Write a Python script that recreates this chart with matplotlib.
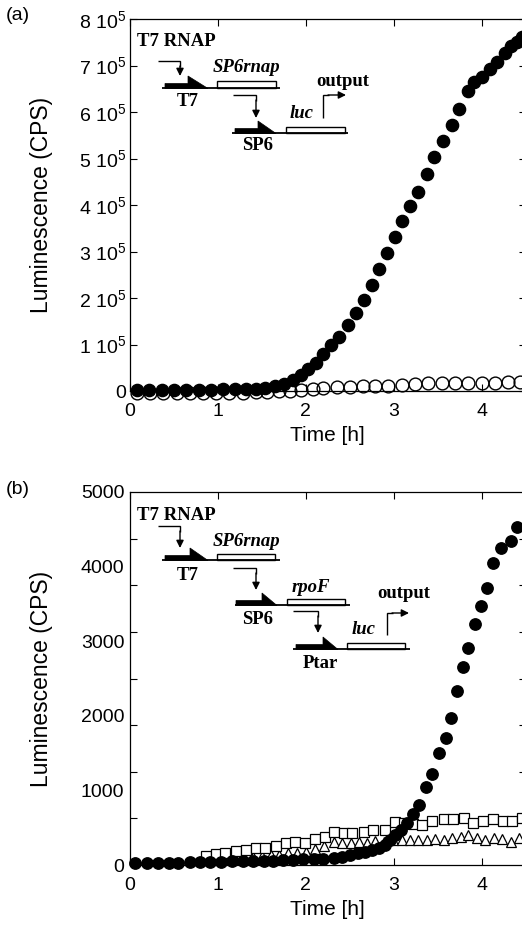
import numpy as np
import matplotlib
matplotlib.use("Agg")
import matplotlib.pyplot as plt
from matplotlib.ticker import FuncFormatter, MultipleLocator, FixedLocator
from matplotlib.lines import Line2D
from matplotlib.patches import Polygon, Rectangle, FancyArrowPatch

plt.rcParams['font.family'] = ['Liberation Sans', 'DejaVu Sans']
plt.rcParams['mathtext.fontset'] = 'custom'
plt.rcParams['mathtext.rm'] = 'Liberation Sans'
plt.rcParams['mathtext.it'] = 'Liberation Sans:italic'

# ---------------- data: panel (a) ----------------
a_on_t = [0.08, 0.22, 0.36, 0.50, 0.64, 0.78, 0.92, 1.06, 1.19, 1.32,
          1.43, 1.54, 1.65, 1.75, 1.85, 1.94, 2.03, 2.12, 2.20, 2.29,
          2.38, 2.48, 2.57, 2.66, 2.75, 2.83, 2.92, 3.01, 3.10, 3.18,
          3.28, 3.38, 3.46, 3.56, 3.66, 3.74, 3.84, 3.91, 4.01, 4.10,
          4.17, 4.27, 4.34, 4.40, 4.46]
a_on_y = [3000, 3000, 3000, 3000, 3000, 3000, 3000, 3500, 4000, 4000,
          5000, 7000, 10000, 16000, 24000, 34000, 47000, 61000, 80000, 99000,
          117000, 142000, 168000, 196000, 228000, 262000, 297000, 332000, 366000, 398000,
          429000, 467000, 503000, 538000, 572000, 606000, 646000, 665000, 676000, 692000,
          708000, 726000, 742000, 751000, 762000]

a_off_t = [0.08, 0.23, 0.38, 0.53, 0.68, 0.83, 0.98, 1.13, 1.28, 1.43,
           1.56, 1.69, 1.82, 1.95, 2.08, 2.20, 2.35, 2.50, 2.65, 2.79,
           2.94, 3.09, 3.24, 3.39, 3.55, 3.70, 3.85, 4.00, 4.15, 4.30, 4.44]
a_off_y = [-4000, -4000, -4000, -4000, -4000, -4000, -4000, -4000, -3500, -3000,
           -2000, -1000, 1000, 3000, 4000, 7000, 8000, 9000, 10000, 11000,
           11000, 13000, 15000, 17000, 18000, 18000, 18000, 17000, 18000, 19000, 19000]

a_yticks = [0, 100000, 200000, 300000, 400000, 500000, 600000, 700000, 800000]

# ---------------- data: panel (b) ----------------
b_on_t = [0.06, 0.19, 0.32, 0.44, 0.55, 0.68, 0.80, 0.91, 1.04, 1.16,
          1.29, 1.40, 1.52, 1.63, 1.74, 1.86, 1.97, 2.09, 2.20, 2.32,
          2.41, 2.50, 2.59, 2.67, 2.75, 2.83, 2.90, 2.96, 3.02, 3.08,
          3.15, 3.22, 3.29, 3.37, 3.44, 3.52, 3.59, 3.65, 3.72, 3.79,
          3.85, 3.92, 3.99, 4.06, 4.13, 4.22, 4.33, 4.40]
b_on_y = [30, 30, 30, 30, 30, 35, 35, 40, 45, 50,
          50, 55, 60, 60, 65, 70, 75, 80, 85, 90,
          110, 130, 155, 175, 200, 225, 270, 330, 400, 470,
          560, 690, 810, 1050, 1220, 1497, 1698, 1966, 2336, 2658,
          2905, 3226, 3472, 3717, 4044, 4245, 4347, 4535]

b_sq_t = [0.86, 0.98, 1.08, 1.21, 1.32, 1.43, 1.54, 1.66, 1.77, 1.88,
          1.99, 2.10, 2.22, 2.32, 2.43, 2.53, 2.66, 2.77, 2.90, 3.01,
          3.12, 3.22, 3.32, 3.44, 3.57, 3.68, 3.80, 3.90, 4.02, 4.13,
          4.24, 4.35, 4.46]
b_sq_y = [125, 147, 165, 188, 201, 232, 224, 255, 291, 312,
          291, 344, 380, 447, 425, 425, 447, 469, 469, 580,
          559, 550, 536, 594, 612, 612, 626, 567, 594, 612,
          594, 594, 626]

b_tri_t = [0.90, 1.00, 1.10, 1.20, 1.30, 1.40, 1.50, 1.60, 1.70, 1.80,
           1.90, 2.00, 2.10, 2.21, 2.32, 2.41, 2.51, 2.60, 2.70, 2.79,
           2.89, 2.99, 3.09, 3.19, 3.28, 3.38, 3.47, 3.57, 3.66, 3.76,
           3.85, 3.95, 4.04, 4.14, 4.23, 4.33, 4.42]
b_tri_y = [70, 80, 85, 95, 100, 110, 120, 130, 140, 155,
           165, 180, 220, 260, 312, 299, 299, 312, 299, 326,
           312, 330, 335, 335, 335, 335, 344, 335, 358, 380,
           402, 358, 335, 358, 344, 312, 358]

b_ylabels = [0, 1000, 2000, 3000, 4000, 5000]
x_ticks = [0, 1, 2, 3, 4]

# ---------------- figure ----------------
W, H = 522, 926
fig = plt.figure(figsize=(W / 100, H / 100), dpi=100)

x0_px, px_per_h = 130, 87.9
xmax = 4.5
axw = xmax * px_per_h / W

ax1 = fig.add_axes([x0_px / W, (H - 391) / H, axw, 372 / H])
ax2 = fig.add_axes([x0_px / W, (H - 865) / H, axw, 373 / H])

for ax in (ax1, ax2):
    ax.set_xlim(0, xmax)
    ax.set_xticks(x_ticks)
    ax.tick_params(axis='both', which='both', direction='in', top=True, right=True,
                   labelsize=14, width=0.8)
    ax.tick_params(axis='both', which='major', length=5)
    ax.tick_params(axis='x', pad=9)
    ax.tick_params(axis='y', pad=3)
    for s in ax.spines.values():
        s.set_linewidth(0.9)
    ax.set_xlabel('Time [h]', fontsize=15, labelpad=4)
    ax.set_ylabel('Luminescence (CPS)', fontsize=16.5)

# panel (a)
ax1.set_ylim(0, 800000)
ax1.yaxis.set_major_locator(FixedLocator(a_yticks))


def afmt(v, pos):
    k = int(round(v / 1e5))
    return '0' if k == 0 else rf'{k} 10$^{{5}}$'


ax1.yaxis.set_major_formatter(FuncFormatter(afmt))
ax1.plot(a_off_t, a_off_y, 'o', ms=9.2, mfc='none', mec='k', mew=1.0, clip_on=False, zorder=3)
ax1.plot(a_on_t, a_on_y, 'o', ms=8.8, mfc='k', mec='k', clip_on=False, zorder=4)

# panel (b)
ax2.set_ylim(0, 5000)
ax2.yaxis.set_major_locator(FixedLocator(b_ylabels))
ax2.yaxis.set_minor_locator(MultipleLocator(625))
ax2.tick_params(axis='y', which='major', length=0, pad=4)
ax2.tick_params(axis='y', which='minor', length=5)
ax2.plot(b_tri_t, b_tri_y, '^', ms=7.5, mfc='white', mec='k', mew=0.9, clip_on=False, zorder=3)
ax2.plot(b_sq_t, b_sq_y, 's', ms=7.8, mfc='white', mec='k', mew=0.9, clip_on=False, zorder=4)
ax2.plot(b_on_t, b_on_y, 'o', ms=8.2, mfc='k', mec='k', clip_on=False, zorder=5)

for ax in (ax1, ax2):
    ax.yaxis.set_label_coords(-0.195, 0.5)

fig.text(18 / W, 1 - 16 / H, '(a)', ha='center', va='center', fontsize=14)
fig.text(18 / W, 1 - 490 / H, '(b)', ha='center', va='center', fontsize=14)


# ---------------- schematic helpers (figure pixel layout) ----------------
def F(px, py):
    return (px / W, 1 - py / H)


def label(px, py, s, ha='left', italic=False):
    fig.text(px / W, 1 - py / H, s, ha=ha, va='center', family='Liberation Serif',
             fontweight='bold', fontstyle='italic' if italic else 'normal', fontsize=13.5)


def poly_line(pts, lw=1.0):
    xs = [p[0] / W for p in pts]
    ys = [1 - p[1] / H for p in pts]
    fig.add_artist(Line2D(xs, ys, color='k', lw=lw, transform=fig.transFigure,
                          solid_capstyle='butt', solid_joinstyle='miter'))


def arrow(p0, p1):
    fig.add_artist(FancyArrowPatch(F(*p0), F(*p1), transform=fig.transFigure,
                                   arrowstyle='-|>', mutation_scale=11, lw=1.0,
                                   color='k', shrinkA=0, shrinkB=0))


def bent_arrow_down(xa, y, xb, yend):
    poly_line([(xa, y), (xb, y), (xb, y + 6)])
    arrow((xb, y + 5), (xb, yend))


def promoter(x0, xp, x1, c):
    pts = [F(x0, c + 0.5), F(x0, c - 4.5), F(xp, c - 4.5), F(xp, c - 12), F(x1, c + 0.5)]
    fig.add_artist(Polygon(pts, closed=True, fc='k', ec='k', lw=0.5, transform=fig.transFigure))


def gene(x0, x1, c, h=6):
    (fx0, fy0) = F(x0, c)
    fig.add_artist(Rectangle((fx0, fy0), (x1 - x0) / W, h / H, fc='white', ec='k', lw=1.0,
                             transform=fig.transFigure))


def output_arrow(x, ybot, ytop, xend):
    poly_line([(x, ybot), (x, ytop), (x + 6, ytop)])
    arrow((x + 5, ytop), (xend, ytop))


# ---- panel (a) schematic ----
label(137, 42, 'T7 RNAP')
bent_arrow_down(158, 61, 180, 76)
poly_line([(162, 88), (280, 88)], lw=1.3)
promoter(165, 188, 208, 88)
gene(217, 276, 88, 7)
label(213, 67, 'SP6rnap', italic=True)
label(188, 101, 'T7', ha='center')

bent_arrow_down(233, 95, 256, 118)
poly_line([(232, 133), (348, 133)], lw=1.3)
promoter(235, 258, 276, 133)
gene(286, 345, 133, 6)
label(290, 113, 'luc', italic=True)
label(258, 146, 'SP6', ha='center')
label(316, 82, 'output')
output_arrow(323, 118, 95, 346)

# ---- panel (b) schematic ----
label(137, 515, 'T7 RNAP')
bent_arrow_down(158, 526, 180, 548)
poly_line([(162, 560), (280, 560)], lw=1.3)
promoter(165, 190, 208, 560)
gene(217, 275, 560, 6)
label(213, 541, 'SP6rnap', italic=True)
label(188, 575, 'T7', ha='center')

bent_arrow_down(233, 568, 256, 590)
poly_line([(235, 605), (350, 605)], lw=1.3)
promoter(236, 262, 277, 605)
gene(287, 345, 605, 6)
label(292, 587, 'rpoF', italic=True)
label(258, 620, 'SP6', ha='center')

bent_arrow_down(293, 611, 318, 633)
poly_line([(293, 649), (410, 649)], lw=1.3)
promoter(296, 323, 338, 649)
gene(347, 405, 649, 6)
label(352, 630, 'luc', italic=True)
label(320, 663, 'Ptar', ha='center')
label(377, 593, 'output')
output_arrow(387, 635, 613, 409)

fig.savefig('out.png', dpi=100)
